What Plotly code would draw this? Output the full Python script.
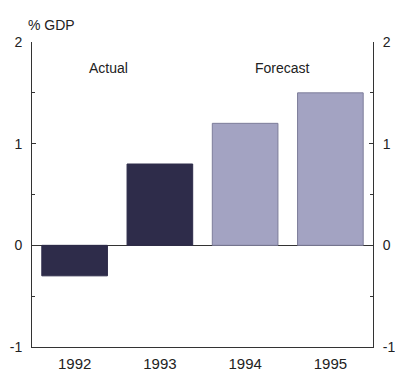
import plotly.graph_objects as go

years = ["1992", "1993", "1994", "1995"]
values = [-0.3, 0.8, 1.2, 1.5]
kinds = ["Actual", "Actual", "Forecast", "Forecast"]
y_tickvals = [-1, 0, 1, 2]
y_ticktext = ["-1", "0", "1", "2"]

colors = ["#2e2c4a" if k == "Actual" else "#a3a3c2" for k in kinds]
edges = ["#2e2c4a" if k == "Actual" else "#7d7d9a" for k in kinds]

fig = go.Figure()
fig.add_trace(go.Bar(x=years, y=values, width=0.77,
                     marker=dict(color=colors, line=dict(color=edges, width=1)),
                     showlegend=False))
# invisible trace for right axis
fig.add_trace(go.Scatter(x=years, y=values, yaxis="y2", mode="markers",
                         marker=dict(opacity=0), showlegend=False, hoverinfo="skip"))

font = dict(family="Liberation Sans, Arial, sans-serif", size=14, color="#222")

axis_common = dict(range=[-1, 2], tickvals=y_tickvals, ticktext=y_ticktext,
                   ticks="inside", ticklen=4, tickcolor="#333",
                   showgrid=False, showline=True, linecolor="#333", linewidth=1,
                   minor=dict(dtick=0.5, ticks="inside", ticklen=3, tickcolor="#333"),
                   tickfont=font, fixedrange=True, automargin=False)

fig.update_layout(
    width=395, height=379,
    margin=dict(l=32, r=22, t=42, b=32, autoexpand=False),
    paper_bgcolor="white", plot_bgcolor="white",
    font=font,
    xaxis=dict(showline=True, linecolor="#333", linewidth=1, ticks="",
               tickfont=dict(family="Liberation Sans, Arial, sans-serif", size=15, color="#222"),
               showgrid=False, automargin=False, ticklabelstandoff=3),
    yaxis=dict(**axis_common, zeroline=True, zerolinecolor="#333", zerolinewidth=1,
               ticklabelstandoff=6),
    yaxis2=dict(**axis_common, overlaying="y", side="right", zeroline=False,
                ticklabelstandoff=6),
    annotations=[
        dict(text="% GDP", xref="paper", yref="paper", x=-0.018, y=1.057,
             xanchor="left", yanchor="middle", showarrow=False, font=font),
        dict(text="Actual", xref="paper", yref="paper", x=0.223, y=0.915,
             xanchor="center", yanchor="middle", showarrow=False, font=font),
        dict(text="Forecast", xref="paper", yref="paper", x=0.736, y=0.915,
             xanchor="center", yanchor="middle", showarrow=False, font=font),
    ],
)

fig.write_html("out.html")
